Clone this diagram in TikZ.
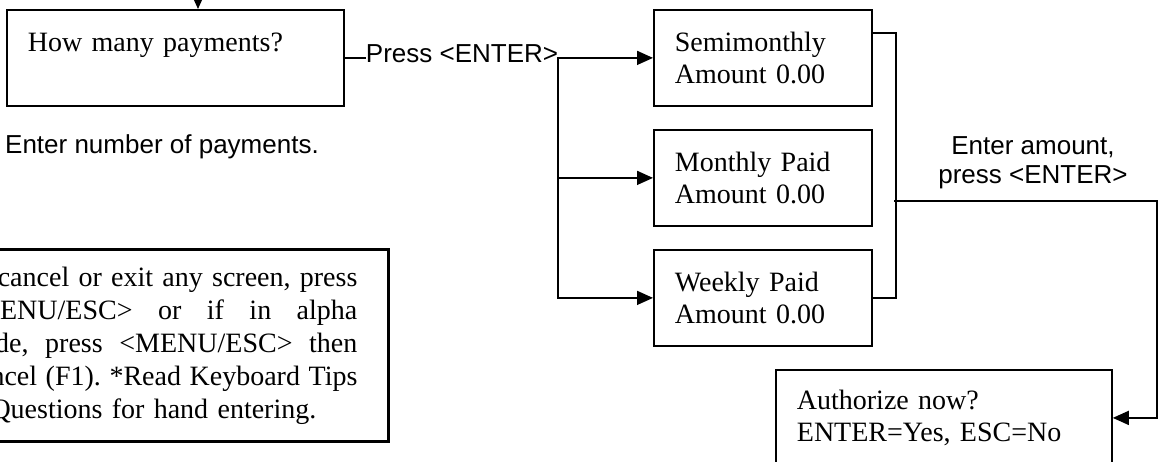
\documentclass[tikz,border=0pt]{standalone}
\usepackage{fontspec}
\setmainfont{Liberation Serif}
\newfontfamily\labelfont{Liberation Sans}
\usetikzlibrary{arrows.meta}
\tikzset{
  screen/.style={draw, line width=1.8pt, rectangle, anchor=north west,
    inner xsep=21pt, inner ysep=0pt, align=left,
    font=\fontsize{28}{32}\selectfont},
  flow/.style={line width=1.6pt, -{Triangle[length=16pt,width=14pt]}},
  wire/.style={line width=1.6pt},
  hint/.style={font=\labelfont\fontsize{26}{29}\selectfont, inner sep=0pt},
  notebox/.style={draw, line width=3.2pt, rectangle, anchor=north east,
    inner xsep=31pt, inner ysep=0pt, align=left,
    font=\fontsize{28}{33}\selectfont},
}
% a line of the note, stretched to the full measure
\newcommand{\fullline}[1]{\leavevmode\hbox to 398pt{#1}}
\begin{document}
\begin{tikzpicture}[x=1pt,y=-1pt]
\useasboundingbox (0,0) rectangle (1159,461);
\clip (0,0) rectangle (1159,461);
\fill[white] (0,0) rectangle (1159,461);

% screens
\node[screen, minimum width=337pt, minimum height=96pt, text width=295pt]
  (howmany) at (6,9) {How many payments?\\\mbox{}};
\node[screen, minimum width=218pt, minimum height=96pt, text width=176pt]
  (semi) at (653,9) {Semimonthly\\Amount 0.00};
\node[screen, minimum width=218pt, minimum height=96pt, text width=176pt]
  (monthly) at (653,129) {Monthly Paid\\Amount 0.00};
\node[screen, minimum width=218pt, minimum height=96pt, text width=176pt]
  (weekly) at (653,249) {Weekly Paid\\Amount 0.00};
\node[screen, minimum width=336pt, minimum height=96pt, text width=294pt]
  (auth) at (775,369) {Authorize now?\\ENTER=Yes, ESC=No};

% hints
\node[hint, anchor=base west] (numhint) at (5,153) {Enter number of payments.};
\node[hint, align=center, anchor=south] (amounthint) at (1033,189)
  {Enter amount,\\press <ENTER>};

% note
\node[notebox, minimum width=460pt, minimum height=192pt, text width=398pt]
  (note) at (390,248) {%
  \fullline{To\hfill cancel\hfill or\hfill exit\hfill any\hfill screen,\hfill press}\\
  \fullline{<MENU/ESC>\hfill or\hfill if\hfill in\hfill alpha}\\
  \fullline{mode,\hfill press\hfill <MENU/ESC>\hfill then}\\
  \fullline{Cancel\hfill (F1).\hfill *Read\hfill Keyboard\hfill Tips}\\
  \& Questions for hand entering.};

% incoming arrow
\coordinate (entry) at (198,-40);
\draw[flow] (entry) -- (entry |- howmany.north);

% main branch
\draw[flow] (howmany.east) -- (semi.west);
\node[hint, fill=white, anchor=base] (press) at (462,62) {Press <ENTER>};
\coordinate (split) at (558,57);
\draw[flow] (split) |- (monthly.west);
\draw[flow] (split) |- (weekly.west);

% collecting line on the right
\draw[wire] ([yshift=-24pt]semi.north east) -- ++(23,0) coordinate (bus) |- (weekly.east);
\coordinate (join) at (894,201);
\coordinate (turn) at (1157,201);
\draw[flow] (join) -- (turn) |- (auth.east);
\end{tikzpicture}
\end{document}
